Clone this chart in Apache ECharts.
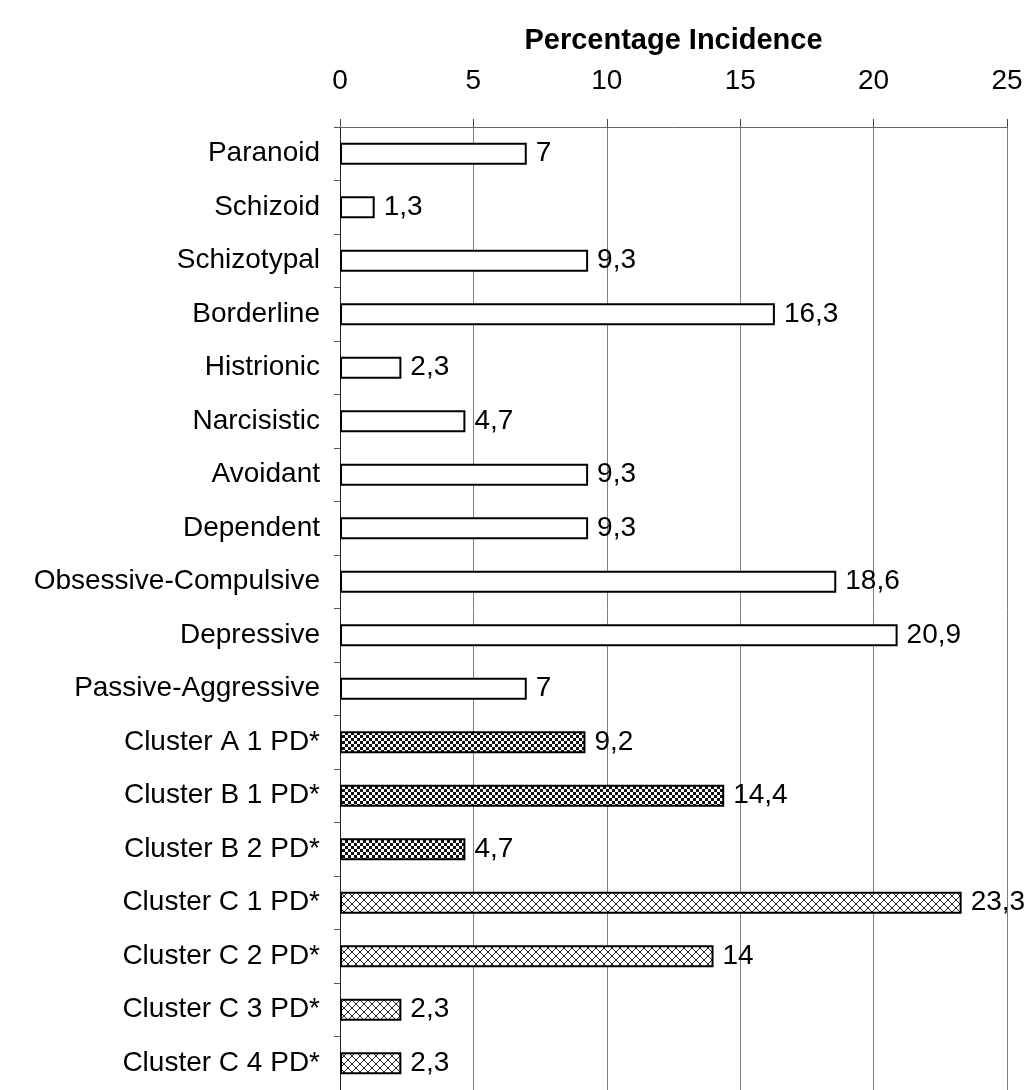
<!DOCTYPE html>
<html>
<head>
<meta charset="utf-8">
<script src="https://cdn.jsdelivr.net/npm/echarts@6/dist/echarts.min.js"></script>
<style>
  html, body { margin: 0; padding: 0; background: #fff; }
  #chart { width: 1032px; height: 1090px; }
</style>
</head>
<body>
<div id="chart"></div>
<script>
const categories = [
  "Paranoid", "Schizoid", "Schizotypal", "Borderline", "Histrionic",
  "Narcisistic", "Avoidant", "Dependent", "Obsessive-Compulsive",
  "Depressive", "Passive-Aggressive", "Cluster A 1 PD*", "Cluster B 1 PD*",
  "Cluster B 2 PD*", "Cluster C 1 PD*", "Cluster C 2 PD*", "Cluster C 3 PD*",
  "Cluster C 4 PD*"
];
const values = [7, 1.3, 9.3, 16.3, 2.3, 4.7, 9.3, 9.3, 18.6, 20.9, 7, 9.2, 14.4, 4.7, 23.3, 14, 2.3, 2.3];
const xTicks = [0, 5, 10, 15, 20, 25];
const axisTitle = "Percentage Incidence";

function makeChecker() {
  const c = document.createElement('canvas');
  c.width = 6; c.height = 6;
  const g = c.getContext('2d');
  g.fillStyle = '#111';
  g.fillRect(0, 0, 6, 6);
  g.fillStyle = '#fff';
  g.fillRect(0, 0, 3, 3);
  g.fillRect(3, 3, 3, 3);
  return c;
}
function makeCross() {
  const c = document.createElement('canvas');
  c.width = 8; c.height = 8;
  const g = c.getContext('2d');
  g.fillStyle = '#fff';
  g.fillRect(0, 0, 8, 8);
  g.strokeStyle = '#222';
  g.lineWidth = 1;
  g.beginPath();
  g.moveTo(-1, -1); g.lineTo(9, 9);
  g.moveTo(9, -1); g.lineTo(-1, 9);
  g.stroke();
  return c;
}
const checker = { image: makeChecker(), repeat: 'repeat' };
const cross = { image: makeCross(), repeat: 'repeat' };

function fillFor(name) {
  if (/^Cluster [AB]/.test(name)) return checker;
  if (/^Cluster C/.test(name)) return cross;
  return '#ffffff';
}

const seriesData = values.map((v, i) => ({
  value: v,
  itemStyle: { color: fillFor(categories[i]) }
}));

const chart = echarts.init(document.getElementById('chart'), null, { renderer: 'canvas' });
const FONT = '"Liberation Sans", Arial, Helvetica, sans-serif';
chart.setOption({
  backgroundColor: '#ffffff',
  animation: false,
  grid: { left: 340, right: 25, top: 127, bottom: -10, containLabel: false },
  xAxis: {
    type: 'value',
    position: 'top',
    min: xTicks[0],
    max: xTicks[xTicks.length - 1],
    interval: 5,
    name: axisTitle,
    nameLocation: 'middle',
    nameGap: 72,
    nameTextStyle: { fontFamily: FONT, fontSize: 29, fontWeight: 'bold', color: '#000' },
    axisLine: { show: true, lineStyle: { color: '#666', width: 1 } },
    axisTick: { show: true, length: 8, lineStyle: { color: '#444' } },
    axisLabel: { fontFamily: FONT, fontSize: 28, color: '#000', margin: 32 },
    splitLine: { show: true, lineStyle: { color: '#808080', width: 1 } }
  },
  yAxis: {
    type: 'category',
    data: categories,
    inverse: true,
    axisLine: { show: true, lineStyle: { color: '#222', width: 1 } },
    axisTick: { show: true, length: 6, lineStyle: { color: '#555' } },
    axisLabel: { fontFamily: FONT, fontSize: 28, color: '#000', margin: 20 },
    splitLine: { show: false }
  },
  series: [{
    type: 'bar',
    data: seriesData,
    barWidth: 22,
    itemStyle: { borderColor: '#000', borderWidth: 2 },
    label: {
      show: true,
      position: 'right',
      distance: 9,
      fontFamily: FONT,
      fontSize: 28,
      color: '#000',
      formatter: p => String(p.value).replace('.', ',')
    }
  }]
});
</script>
</body>
</html>
